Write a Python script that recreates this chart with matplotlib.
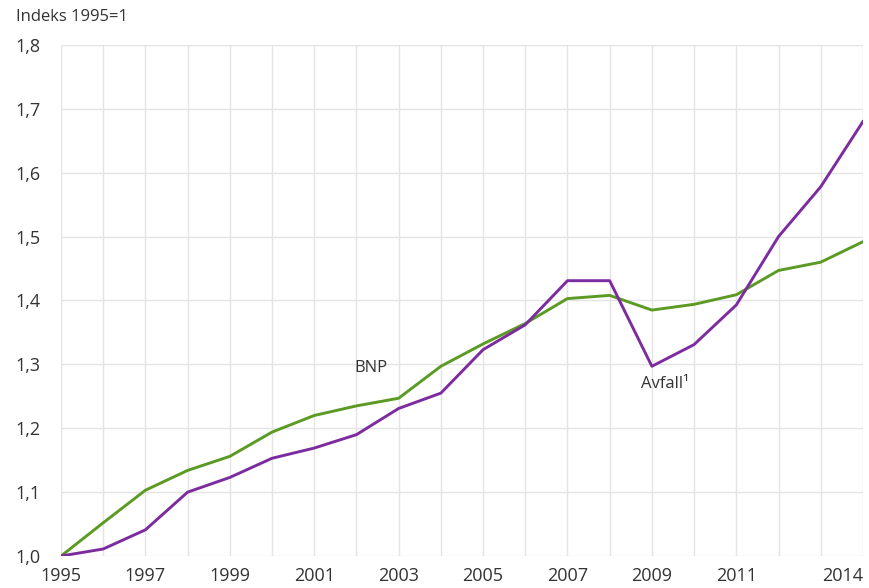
import matplotlib
matplotlib.use("Agg")
import matplotlib.pyplot as plt  # noqa: E402

years = list(range(1995, 2015))
bnp = [1.000, 1.052, 1.103, 1.134, 1.156, 1.194, 1.220, 1.235, 1.247, 1.297,
       1.332, 1.364, 1.403, 1.408, 1.385, 1.394, 1.409, 1.447, 1.460, 1.492]
avfall = [1.000, 1.011, 1.041, 1.100, 1.123, 1.153, 1.169, 1.190, 1.231, 1.255,
          1.323, 1.362, 1.431, 1.431, 1.297, 1.331, 1.393, 1.500, 1.578, 1.680]
xtick_years = [1995, 1997, 1999, 2001, 2003, 2005, 2007, 2009, 2011, 2014]
yticks = [1.0, 1.1, 1.2, 1.3, 1.4, 1.5, 1.6, 1.7, 1.8]

GREEN = "#5b9a23"
PURPLE = "#7c2c9f"
TXT = "#333333"

plt.rcParams["font.family"] = ["Open Sans", "DejaVu Sans"]

fig = plt.figure(figsize=(8.69, 5.88), dpi=100)
ax = fig.add_axes([0.0702, 0.0544, 0.9228, 0.8691])

ax.plot(years, bnp, color=GREEN, lw=2.1, solid_joinstyle="round", zorder=3)
ax.plot(years, avfall, color=PURPLE, lw=2.1, solid_joinstyle="round", zorder=3)

ax.set_xlim(1995, 2014)
ax.set_ylim(1.0, 1.8)
ax.set_xticks(years, minor=True)
ax.set_xticks(xtick_years)
ax.set_xticklabels([str(y) for y in xtick_years])
ax.xaxis.get_ticklabels()[-1].set_horizontalalignment("right")
ax.set_yticks(yticks)
ax.set_yticklabels([f"{v:.1f}".replace(".", ",") for v in yticks])

ax.grid(True, which="both", axis="x", color="#e4e4e4", lw=1.0)
ax.grid(True, axis="y", color="#e4e4e4", lw=1.0)
ax.set_axisbelow(True)
for s in ax.spines.values():
    s.set_visible(False)
ax.tick_params(which="both", length=0, labelsize=13, colors=TXT)
ax.tick_params(axis="x", pad=8)
ax.tick_params(axis="y", pad=15)

ax.text(2002.35, 1.295, "BNP", fontsize=12, color=TXT, ha="center", va="center")
ax.text(2009.3, 1.27, "Avfall¹", fontsize=12, color=TXT, ha="center", va="center")
fig.text(0.018, 0.971, "Indeks 1995=1", fontsize=12, color=TXT, ha="left", va="center")

fig.savefig("out.png", dpi=100)
